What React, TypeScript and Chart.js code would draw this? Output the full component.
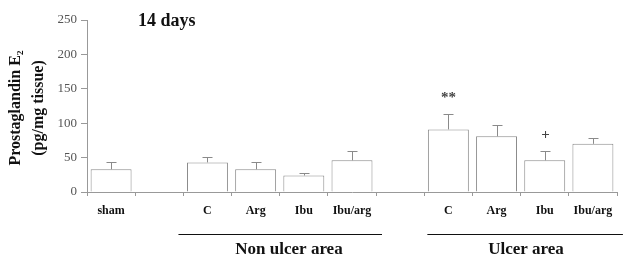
import React, { useEffect, useRef } from "react";
import { Chart, registerables } from "chart.js";

Chart.register(...registerables);

const categories = ["sham", "", "C", "Arg", "Ibu", "Ibu/arg", "", "C", "Arg", "Ibu", "Ibu/arg"];
const means: (number | null)[] = [33, null, 43, 33, 24, 46, null, 91, 81, 46, 70];
const sds: (number | null)[] = [10, null, 8, 11, 4, 14, null, 22, 17, 14, 8];
const marks = ["", "", "", "", "", "", "", "**", "", "+", ""];
const groups = [
  { label: "Non ulcer area", from: 2, to: 5 },
  { label: "Ulcer area", from: 7, to: 10 },
];
const yTicks = [0, 50, 100, 150, 200, 250];
const chartTitle = "14 days";
const yTitle = ["Prostaglandin E\u2082", "(pg/mg tissue)"];

const SERIF = "'Liberation Serif', 'Times New Roman', serif";

const overlay = {
  id: "overlay",
  afterDatasetsDraw(chart: any) {
    const { ctx, scales } = chart;
    const xs = scales.x;
    const ys = scales.y;
    ctx.save();
    // error bars
    ctx.strokeStyle = "#8a8a8a";
    ctx.lineWidth = 1;
    means.forEach((m, i) => {
      const s = sds[i];
      if (m == null || s == null) return;
      const x = Math.round(xs.getPixelForValue(i)) + 0.5;
      const y0 = ys.getPixelForValue(m);
      const y1 = Math.round(ys.getPixelForValue(m + s)) + 0.5;
      ctx.beginPath();
      ctx.moveTo(x, y0);
      ctx.lineTo(x, y1);
      ctx.moveTo(x - 5, y1);
      ctx.lineTo(x + 5, y1);
      ctx.stroke();
      if (marks[i]) {
        ctx.fillStyle = "#444";
        ctx.font = `bold 15px ${SERIF}`;
        ctx.textAlign = "center";
        ctx.textBaseline = "middle";
        ctx.fillText(marks[i], x, y1 - 16);
      }
    });
    // groups
    ctx.strokeStyle = "#111";
    ctx.fillStyle = "#111";
    groups.forEach((g, gi) => {
      const a = xs.getPixelForValue(g.from) - (gi === 0 ? 29 : 21);
      const b = xs.getPixelForValue(g.to) + 30;
      ctx.beginPath();
      ctx.moveTo(a, 234.5);
      ctx.lineTo(b, 234.5);
      ctx.stroke();
      ctx.font = `bold 17px ${SERIF}`;
      ctx.textAlign = "center";
      ctx.textBaseline = "middle";
      const cx = gi === 0 ? 289 : 526;
      ctx.fillText(g.label, cx, 250);
    });
    // title
    ctx.font = `bold 18px ${SERIF}`;
    ctx.textAlign = "left";
    ctx.textBaseline = "middle";
    ctx.fillText(chartTitle, 138, 21);
    // y title
    ctx.font = `bold 16px ${SERIF}`;
    ctx.textAlign = "center";
    ctx.translate(0, 108);
    ctx.rotate(-Math.PI / 2);
    ctx.fillText(yTitle[0], 0, 16);
    ctx.fillText(yTitle[1], 0, 39);
    ctx.restore();
  },
};

export default function App() {
  const ref = useRef<HTMLCanvasElement>(null);
  useEffect(() => {
    if (!ref.current) return;
    const chart = new Chart(ref.current, {
      type: "bar",
      data: {
        labels: categories,
        datasets: [
          {
            data: means as any,
            backgroundColor: "#ffffff",
            borderColor: "#8a8a8a",
            borderWidth: 1,
            barPercentage: 0.85,
            categoryPercentage: 1,
          },
        ],
      },
      options: {
        responsive: false,
        animation: false,
        layout: { padding: { top: 20, right: 9, left: 0, bottom: 0 } },
        plugins: { legend: { display: false }, tooltip: { enabled: false } },
        scales: {
          x: {
            grid: { drawOnChartArea: false, drawTicks: true, tickLength: 4, color: "#999", offset: true },
            border: { color: "#999" },
            ticks: {
              color: "#111",
              font: { family: SERIF, size: 12, weight: "bold" },
              padding: 8,
              autoSkip: false,
              maxRotation: 0,
            },
            afterFit(scale: any) {
              scale.height = 67;
            },
          },
          y: {
            min: 0,
            max: 250,
            afterBuildTicks(scale: any) {
              scale.ticks = yTicks.map((v) => ({ value: v }));
            },
            grid: { drawOnChartArea: false, drawTicks: true, tickLength: 6, color: "#999" },
            border: { color: "#999" },
            ticks: {
              color: "#555",
              font: { family: SERIF, size: 13 },
              padding: 4,
            },
            afterFit(scale: any) {
              scale.width = 87;
            },
          },
        },
      },
      plugins: [overlay],
    });
    return () => chart.destroy();
  }, []);
  return (
    <div style={{ position: "absolute", left: 0, top: 0, width: 626, height: 259, background: "#fff" }}>
      <canvas ref={ref} width={626} height={259} />
    </div>
  );
}
